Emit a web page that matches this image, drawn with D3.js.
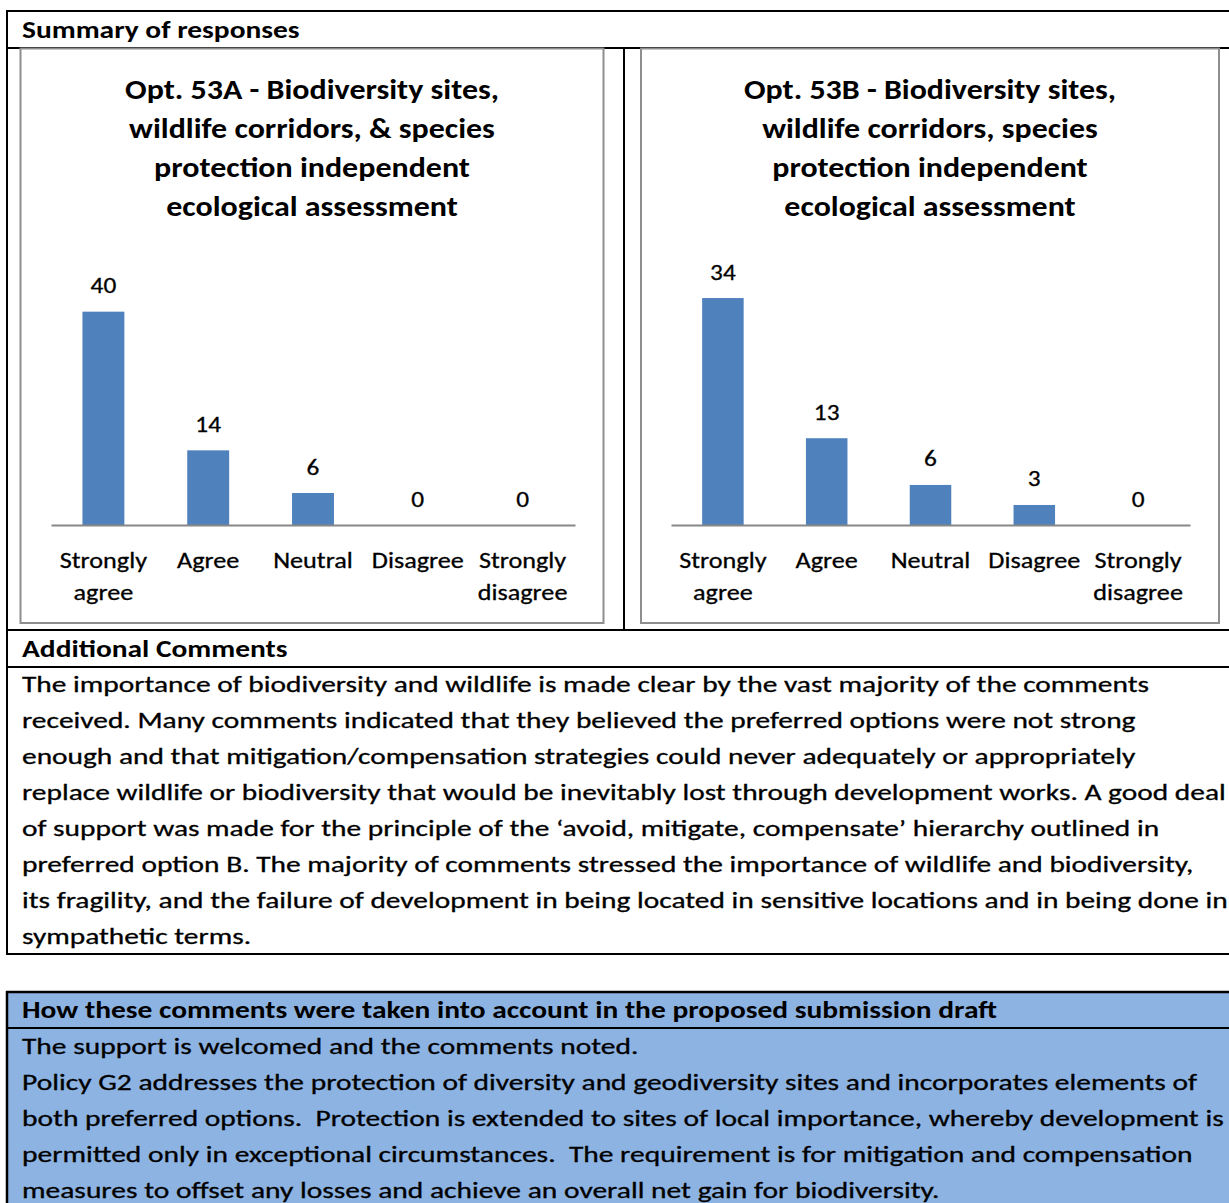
<!DOCTYPE html>
<html>
<head>
<meta charset="utf-8">
<script src="https://cdn.jsdelivr.net/npm/d3@7"></script>
<style>
  html, body { margin: 0; padding: 0; background: #fff; }
  svg { display: block; }
  text { font-family: Carlito, Calibri, Lato, "Noto Sans", sans-serif; fill: #000; }
  text.reg { stroke: #000; stroke-width: 0.3px; }
</style>
</head>
<body>
<svg id="page" width="1229" height="1203"></svg>
<script>
// ---------- DATA ----------
const categories = [["Strongly", "agree"], ["Agree"], ["Neutral"], ["Disagree"], ["Strongly", "disagree"]];
const valuesA = [40, 14, 6, 0, 0];
const valuesB = [34, 13, 6, 3, 0];
const titleA = ["Opt. 53A - Biodiversity sites,", "wildlife corridors, & species", "protection independent", "ecological assessment"];
const titleB = ["Opt. 53B - Biodiversity sites,", "wildlife corridors, species", "protection independent", "ecological assessment"];
const summaryHeader = "Summary of responses";
const commentsHeader = "Additional Comments";
const commentsLines = [
  "The importance of biodiversity and wildlife is made clear by the vast majority of the comments",
  "received. Many comments indicated that they believed the preferred options were not strong",
  "enough and that mitigation/compensation strategies could never adequately or appropriately",
  "replace wildlife or biodiversity that would be inevitably lost through development works. A good deal",
  "of support was made for the principle of the \u2018avoid, mitigate, compensate\u2019 hierarchy outlined in",
  "preferred option B. The majority of comments stressed the importance of wildlife and biodiversity,",
  "its fragility, and the failure of development in being located in sensitive locations and in being done in",
  "sympathetic terms."
];
const responseHeader = "How these comments were taken into account in the proposed submission draft";
const responseLines = [
  "The support is welcomed and the comments noted.",
  "Policy G2 addresses the protection of diversity and geodiversity sites and incorporates elements of",
  "both preferred options.\u00a0 Protection is extended to sites of local importance, whereby development is",
  "permitted only in exceptional circumstances.\u00a0 The requirement is for mitigation and compensation",
  "measures to offset any losses and achieve an overall net gain for biodiversity."
];

// ---------- LAYOUT ----------
const svg = d3.select("#page");
const W = 1229;
const barColor = "#4F81BD";
const frameColor = "#8E8E8E";
const axisColor = "#878787";

function fitGroup(sel, refIndex, target) {
  const nat = sel.nodes().map(n => n.getComputedTextLength());
  const k = target / nat[refIndex];
  sel.attr("textLength", (d, i) => nat[i] * k).attr("lengthAdjust", "spacingAndGlyphs");
  return k;
}

// ---------- TABLE 2 background (blue) ----------
svg.append("rect").attr("x", 7).attr("y", 992).attr("width", W - 7).attr("height", 1203 - 992).attr("fill", "#8DB3E2");

// ---------- TABLE 1 lines ----------
const lines1 = svg.append("g").attr("stroke", "#000").attr("stroke-width", 2);
lines1.append("line").attr("x1", 6).attr("x2", W).attr("y1", 11).attr("y2", 11);
lines1.append("line").attr("x1", 7).attr("x2", 7).attr("y1", 10).attr("y2", 955);
lines1.append("line").attr("x1", 6).attr("x2", W).attr("y1", 48).attr("y2", 48);
lines1.append("line").attr("x1", 624).attr("x2", 624).attr("y1", 48).attr("y2", 630);
lines1.append("line").attr("x1", 6).attr("x2", W).attr("y1", 630).attr("y2", 630);
lines1.append("line").attr("x1", 6).attr("x2", W).attr("y1", 667).attr("y2", 667);
lines1.append("line").attr("x1", 6).attr("x2", W).attr("y1", 954).attr("y2", 954);

// ---------- TABLE 2 lines ----------
const lines2 = svg.append("g").attr("stroke", "#000").attr("stroke-width", 2.5);
lines2.append("line").attr("x1", 6).attr("x2", W).attr("y1", 992).attr("y2", 992);
lines2.append("line").attr("x1", 7).attr("x2", 7).attr("y1", 991).attr("y2", 1203);
lines2.append("line").attr("x1", 6).attr("x2", W).attr("y1", 1028).attr("y2", 1028).attr("stroke-width", 2);

// ---------- Headers ----------
const boldSize = 24, bodySize = 22.3;
const hdrs = svg.append("g").selectAll("text")
  .data([[summaryHeader, 38], [commentsHeader, 657], [responseHeader, 1018]])
  .join("text")
  .attr("x", 22).attr("y", d => d[1])
  .attr("font-size", boldSize).attr("font-weight", "bold")
  .text(d => d[0]);
fitGroup(hdrs, 2, 975);

// ---------- Body paragraphs ----------
const comm = svg.append("g").selectAll("text").data(commentsLines).join("text")
  .attr("class", "reg")
  .attr("x", 22).attr("y", (d, i) => 692 + i * 36)
  .attr("font-size", bodySize).text(d => d);
fitGroup(comm, 0, 1127);

const resp = svg.append("g").selectAll("text").data(responseLines).join("text")
  .attr("class", "reg")
  .attr("x", 22).attr("y", (d, i) => 1054 + i * 36)
  .attr("font-size", bodySize).text(d => d);
fitGroup(resp, 1, 1175);

// ---------- Charts ----------
function drawChart(cfg) {
  const g = svg.append("g");
  g.append("rect")
    .attr("x", cfg.frame[0]).attr("y", 48.5)
    .attr("width", cfg.frame[1] - cfg.frame[0]).attr("height", 623 - 48.5)
    .attr("fill", "#fff").attr("stroke", frameColor).attr("stroke-width", 2);

  const x = d3.scaleBand().domain(d3.range(cfg.values.length))
    .range([cfg.axis[0], cfg.axis[1]]).paddingInner(0.6).paddingOuter(0.3);
  const y = d3.scaleLinear().domain([0, cfg.yMax]).range([525, cfg.yTop]);
  const cx = i => x(i) + x.bandwidth() / 2;

  // title
  const t = g.selectAll("text.title").data(cfg.title).join("text")
    .attr("class", "title")
    .attr("x", cfg.titleX).attr("y", (d, i) => 99 + i * 39)
    .attr("text-anchor", "middle").attr("font-size", 28.5).attr("font-weight", "bold")
    .text(d => d);
  fitGroup(t, 0, cfg.titleW);

  // bars
  g.selectAll("rect.bar").data(cfg.values).join("rect")
    .attr("class", "bar")
    .attr("x", (d, i) => x(i)).attr("width", x.bandwidth())
    .attr("y", d => y(d)).attr("height", d => y(0) - y(d))
    .attr("fill", barColor);

  // axis line
  const ax = d3.axisBottom(x).tickSize(0).tickFormat("");
  const axg = g.append("g").attr("transform", "translate(0,525)").call(ax);
  axg.select(".domain").attr("stroke", axisColor).attr("stroke-width", 2);

  // value labels
  const vl = g.selectAll("text.val").data(cfg.values).join("text")
    .attr("class", "val reg")
    .attr("x", (d, i) => cx(i)).attr("y", d => y(d) - 18.5)
    .attr("text-anchor", "middle").attr("font-size", 23).text(d => d);
  vl.attr("textLength", function () { return this.getComputedTextLength() * 1.1; })
    .attr("lengthAdjust", "spacingAndGlyphs");

  // category labels (one text per line so each can be fitted)
  const catLines = [];
  categories.forEach((c, i) => c.forEach((s, j) => catLines.push({ s, i, j })));
  const cl = g.selectAll("text.cat").data(catLines).join("text")
    .attr("class", "cat reg")
    .attr("x", d => cx(d.i)).attr("y", d => 568 + d.j * 32)
    .attr("text-anchor", "middle").attr("font-size", 23)
    .text(d => d.s);
  fitGroup(cl, catLines.findIndex(d => d.s === "Disagree"), 92);
}

drawChart({ values: valuesA, title: titleA, frame: [20.5, 603.5], axis: [51, 575], yMax: 45, yTop: 285, titleX: 312, titleW: 374 });
drawChart({ values: valuesB, title: titleB, frame: [641, 1219], axis: [671, 1190], yMax: 40, yTop: 258, titleX: 930, titleW: 372 });
</script>
</body>
</html>
